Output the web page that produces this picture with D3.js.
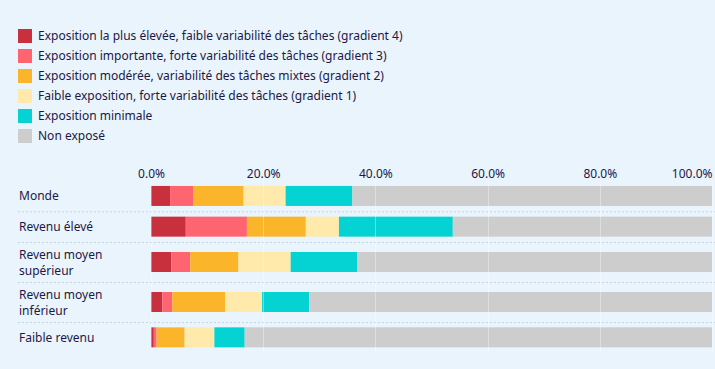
<!DOCTYPE html>
<html><head><meta charset="utf-8">
<script src="https://cdn.jsdelivr.net/npm/d3@7"></script>
<style>
html,body{margin:0;padding:0;background:#eaf4fd;}
svg{display:block;font-family:"Noto Sans",sans-serif;}
</style></head>
<body><svg id="c" width="715" height="369"></svg>
<script>
const categories = ["Monde","Revenu élevé","Revenu moyen supérieur","Revenu moyen inférieur","Faible revenu"];
const categoryLines = [["Monde"],["Revenu élevé"],["Revenu moyen","supérieur"],["Revenu moyen","inférieur"],["Faible revenu"]];
const seriesNames = [
  "Exposition la plus élevée, faible variabilité des tâches (gradient 4)",
  "Exposition importante, forte variabilité des tâches (gradient 3)",
  "Exposition modérée, variabilité des tâches mixtes (gradient 2)",
  "Faible exposition, forte variabilité des tâches (gradient 1)",
  "Exposition minimale",
  "Non exposé"
];
const colors = ["#c9303d","#ff6470","#fbb52b","#ffe9ab","#05d3d3","#cdcdcd"];
const gradient4 = [3.4, 6.2, 3.6, 2.0, 0.5];
const gradient3 = [4.1, 10.9, 3.4, 1.8, 0.5];
const gradient2 = [9.0, 10.5, 8.6, 9.4, 5.0];
const gradient1 = [7.5, 5.9, 9.3, 6.6, 5.3];
const minimal   = [11.9, 20.3, 11.9, 8.4, 5.4];
const nonExpose = [64.1, 46.2, 63.2, 71.8, 83.3];
const tickValues = [0,20,40,60,80,100];
const tickLabels = ["0.0%","20.0%","40.0%","60.0%","80.0%","100.0%"];

const series = [gradient4,gradient3,gradient2,gradient1,minimal,nonExpose];
const rows = categories.map((c,i)=>{const o={cat:c}; series.forEach((s,j)=>o["s"+j]=s[i]); return o;});
const keys = series.map((s,j)=>"s"+j);
const stacked = d3.stack().keys(keys)(rows);

const svg = d3.select("#c");
const textColor = "#1c1846";
const fs = 12;

// legend
const lg = svg.append("g");
seriesNames.forEach((n,i)=>{
  const y = 29 + i*20;
  lg.append("rect").attr("x",18).attr("y",y).attr("width",14).attr("height",14).attr("fill",colors[i]);
  lg.append("text").attr("x",38).attr("y",y+11).attr("font-size",fs).attr("fill",textColor).text(n);
});

// scales
const x = d3.scaleLinear().domain([0,100]).range([151,712]);
const rowHeights = categoryLines.map(l=> l.length>1 ? 40 : 30.7);
const rowTop = [];
let acc = 180.6;
rowHeights.forEach(h=>{rowTop.push(acc); acc+=h;});
const barH = 20;

// axis labels
const ax = svg.append("g").attr("transform","translate(0,178)");
const axis = d3.axisTop(x).tickValues(tickValues).tickFormat((d,i)=>tickLabels[i]).tickSize(0).tickPadding(0);
ax.call(axis);
ax.select(".domain").remove();
ax.selectAll("text").attr("font-size",fs).attr("fill",textColor).attr("font-family","'Noto Sans',sans-serif").attr("dy","0");
ax.selectAll(".tick").filter((d)=>d===100).select("text").attr("text-anchor","end").attr("x",0);

// separators
for(let i=1;i<categories.length;i++){
  svg.append("line").attr("x1",18).attr("x2",715).attr("y1",rowTop[i]+0.5).attr("y2",rowTop[i]+0.5)
    .attr("stroke","#c6d3e0").attr("stroke-width",1).attr("stroke-dasharray","2,2");
}

// bars
const bars = svg.append("g");
stacked.forEach((layer,j)=>{
  bars.selectAll(null).data(layer).enter().append("rect")
    .attr("x",d=>x(d[0])).attr("width",d=>x(d[1])-x(d[0]))
    .attr("y",(d,i)=>rowTop[i]+(rowHeights[i]-barH)/2).attr("height",barH)
    .attr("fill",colors[j]);
});

// gridlines on top
svg.append("g").selectAll("line").data(tickValues).enter().append("line")
  .attr("x1",d=>Math.round(x(d))+0.5).attr("x2",d=>Math.round(x(d))+0.5)
  .attr("y1",rowTop[0]).attr("y2",acc)
  .attr("stroke","#ffffff").attr("stroke-opacity",0.35);

// category labels
categoryLines.forEach((lines,i)=>{
  const cy = rowTop[i]+rowHeights[i]/2;
  const t = svg.append("text").attr("x",19).attr("font-size",fs).attr("fill",textColor);
  const lh = 16;
  lines.forEach((l,k)=>{
    t.append("tspan").attr("x",19).attr("y",cy + 4.5 + (k-(lines.length-1)/2)*lh).text(l);
  });
});
</script></body></html>
